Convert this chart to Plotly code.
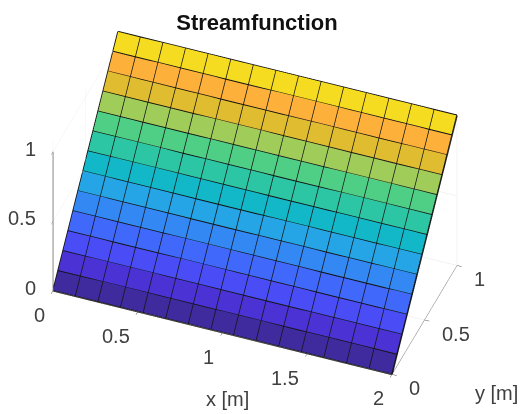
import math
import plotly.graph_objects as go

x_edges = [0, 0.1333, 0.2667, 0.4, 0.5333, 0.6667, 0.8, 0.9333, 1.0667, 1.2, 1.3333, 1.4667, 1.6, 1.7333, 1.8667, 2]
y_edges = [0, 0.0769, 0.1538, 0.2308, 0.3077, 0.3846, 0.4615, 0.5385, 0.6154, 0.6923, 0.7692, 0.8462, 0.9231, 1]
z_edges = [0, 0.083, 0.166, 0.249, 0.3323, 0.4154, 0.4985, 0.5815, 0.6646, 0.7477, 0.8308, 0.9138, 0.9969, 1.08]
row_colors = ["#3f2a9e", "#4a32d4", "#4a4cf5", "#4068fb", "#3388f4", "#25a4e6", "#12b8c8",
              "#2cc6a4", "#4ecf85", "#a0cc5a", "#e0bc30", "#fdb03a", "#f5dc20"]
tick_vals_x = [0, 0.5, 1, 1.5, 2]
tick_vals_yz = [0, 0.5, 1]
tick_text_x = ["0", "0.5", "1", "1.5", "2"]
tick_text_yz = ["0", "0.5", "1"]

nx, ny = len(x_edges), len(y_edges)
vx, vy, vz, ti, tj, tk, fc = [], [], [], [], [], [], []
for j in range(ny):
    for i in range(nx):
        vx.append(x_edges[i]); vy.append(y_edges[j]); vz.append(z_edges[j])
for j in range(ny - 1):
    for i in range(nx - 1):
        a = j * nx + i; b = a + 1; c = a + nx; d_ = c + 1
        ti += [a, a]; tj += [b, d_]; tk += [d_, c]
        fc += [row_colors[j], row_colors[j]]

lx, ly, lz = [], [], []
for j in range(ny):
    lx += x_edges + [None]; ly += [y_edges[j]] * nx + [None]; lz += [z_edges[j]] * nx + [None]
for i in range(nx):
    lx += [x_edges[i]] * ny + [None]; ly += y_edges + [None]; lz += z_edges + [None]

fig = go.Figure()
fig.add_trace(go.Mesh3d(x=vx, y=vy, z=vz, i=ti, j=tj, k=tk, facecolor=fc, flatshading=True,
                        lighting=dict(ambient=1, diffuse=0, specular=0, fresnel=0, roughness=1),
                        showscale=False, hoverinfo="skip"))
fig.add_trace(go.Scatter3d(x=lx, y=ly, z=lz, mode="lines", line=dict(color="#141414", width=3),
                           showlegend=False, hoverinfo="skip"))
fig.add_trace(go.Scatter3d(x=[0, 0], y=[0, 0], z=[0, 1], mode="lines", line=dict(color="#7a7a7a", width=2),
                           showlegend=False, hoverinfo="skip"))

az = math.radians(21); el = math.radians(40); d = 2.25; k = 0.89
ppu = 206.0
shift_right, shift_up = 2.0, -1.0
r = (math.cos(az), math.sin(az), 0.0)
u = (-math.sin(az) * math.sin(el), math.cos(az) * math.sin(el), math.cos(el))
c = [(shift_right * r[n] + shift_up * u[n]) / ppu for n in range(3)]
eye_dir = (math.cos(el) * math.sin(az), -math.cos(el) * math.cos(az), math.sin(el))
axis_font = dict(family="Liberation Sans, Arial, sans-serif", size=20, color="#404040")
common = dict(showbackground=False, showgrid=True, gridcolor="#e8e8e8", gridwidth=1, zeroline=False,
              ticks="outside", ticklen=5, tickcolor="#555555", title=dict(text=""),
              showspikes=False, showticklabels=False)

labels = []
for v, t in zip(tick_vals_yz, tick_text_yz):
    labels.append(dict(x=0, y=0, z=v, text=t, showarrow=False, font=axis_font,
                       xanchor="right", xshift=-15, yshift=3))
for v, t in zip(tick_vals_x, tick_text_x):
    labels.append(dict(x=v, y=0, z=0, text=t, showarrow=False, font=axis_font,
                       xanchor="right", xshift=-6, yshift=-24))
for v, t in zip(tick_vals_yz, tick_text_yz):
    labels.append(dict(x=2, y=v, z=0, text=t, showarrow=False, font=axis_font,
                       xanchor="left", xshift=15, yshift=-14))

fig.update_layout(
    width=525, height=414, margin=dict(l=0, r=0, t=0, b=0), paper_bgcolor="white", showlegend=False,
    title=dict(text="<b>Streamfunction</b>", x=257 / 525, y=1 - 22 / 414, xanchor="center", yanchor="middle",
               font=dict(family="Liberation Sans, Arial, sans-serif", size=22, color="#111111")),
    scene=dict(
        domain=dict(x=[0, 514 / 525], y=[6 / 414, 1]),
        aspectmode="manual", aspectratio=dict(x=2 * k, y=1 * k, z=1.08 * k),
        camera=dict(projection=dict(type="orthographic"), up=dict(x=0, y=0, z=1),
                    center=dict(x=c[0], y=c[1], z=c[2]),
                    eye=dict(x=d * eye_dir[0] + c[0], y=d * eye_dir[1] + c[1], z=d * eye_dir[2] + c[2])),
        xaxis=dict(range=[0, 2], tickvals=tick_vals_x, showline=True, linecolor="#7a7a7a", **common),
        yaxis=dict(range=[0, 1], tickvals=tick_vals_yz, showline=True, linecolor="#7a7a7a", **common),
        zaxis=dict(range=[0, 1.08], tickvals=tick_vals_yz, showline=False, **common),
        annotations=labels,
    ),
    annotations=[
        dict(text="x [m]", x=227 / 525, y=1 - 399 / 414, xref="paper", yref="paper", xanchor="center", yanchor="middle",
             showarrow=False, font=axis_font),
        dict(text="y [m]", x=496 / 525, y=1 - 393 / 414, xref="paper", yref="paper", xanchor="center", yanchor="middle",
             showarrow=False, font=axis_font),
    ],
)
fig.write_html("out.html", post_script="document.body.style.margin='0';", config=dict(displayModeBar=False))
